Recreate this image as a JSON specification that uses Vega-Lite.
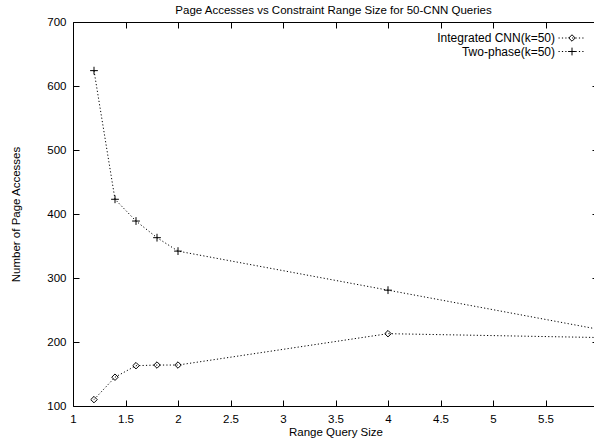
{
  "$schema": "https://vega.github.io/schema/vega-lite/v6.json",
  "autosize": {"type": "none"},
  "padding": {"left": 73, "top": 22, "right": 0, "bottom": 35},
  "width": 521,
  "height": 384,
  "title": {"text": "Page Accesses vs Constraint Range Size for 50-CNN Queries", "font": "Liberation Sans", "fontSize": 11.5, "fontWeight": "normal", "color": "black", "anchor": "middle", "offset": 0},
  "config": {
    "view": {"stroke": null},
    "font": "Liberation Sans",
    "axis": {"grid": false, "domainColor": "black", "tickColor": "black", "labelColor": "black", "titleColor": "black", "labelFont": "Liberation Sans", "titleFont": "Liberation Sans", "labelFontSize": 11.5, "titleFontSize": 11.5, "titleFontWeight": "normal", "labelFlush": false, "labelOverlap": false, "tickSize": -6, "domainWidth": 1, "tickWidth": 1}
  },
  "data": {"values": [
    {"series": "Integrated CNN(k=50)", "size": 1.2, "pages": 110},
    {"series": "Integrated CNN(k=50)", "size": 1.4, "pages": 145},
    {"series": "Integrated CNN(k=50)", "size": 1.6, "pages": 163},
    {"series": "Integrated CNN(k=50)", "size": 1.8, "pages": 164},
    {"series": "Integrated CNN(k=50)", "size": 2.0, "pages": 164},
    {"series": "Integrated CNN(k=50)", "size": 4.0, "pages": 213},
    {"series": "Integrated CNN(k=50)", "size": 6.0, "pages": 207},
    {"series": "Two-phase(k=50)", "size": 1.2, "pages": 624},
    {"series": "Two-phase(k=50)", "size": 1.4, "pages": 423},
    {"series": "Two-phase(k=50)", "size": 1.6, "pages": 389},
    {"series": "Two-phase(k=50)", "size": 1.8, "pages": 363},
    {"series": "Two-phase(k=50)", "size": 2.0, "pages": 342},
    {"series": "Two-phase(k=50)", "size": 4.0, "pages": 281},
    {"series": "Two-phase(k=50)", "size": 6.0, "pages": 220}
  ]},
  "resolve": {"axis": {"x": "independent", "y": "independent"}},
  "layer": [
    {
      "mark": {"type": "line", "strokeWidth": 1, "strokeDash": [1.2, 2.2], "clip": false},
      "encoding": {
        "x": {"field": "size", "type": "quantitative", "scale": {"domain": [1, 6], "range": [0, 525]},
              "axis": {"orient": "bottom", "values": [1, 1.5, 2, 2.5, 3, 3.5, 4, 4.5, 5, 5.5, 6], "format": "~g", "title": "Range Query Size", "labelPadding": 13, "titlePadding": 2}},
        "y": {"field": "pages", "type": "quantitative", "scale": {"domain": [100, 700], "zero": false, "nice": false},
              "axis": {"orient": "left", "values": [100, 200, 300, 400, 500, 600, 700], "format": "d", "title": "Number of Page Accesses", "labelPadding": 13, "titlePadding": 25}},
        "color": {"field": "series", "type": "nominal",
                  "scale": {"domain": ["Integrated CNN(k=50)", "Two-phase(k=50)"], "range": ["black", "black"]},
                  "legend": {"orient": "none", "legendX": 492, "legendY": 10, "title": null, "padding": 0, "symbolType": "M-2.5,0H2.5", "symbolSize": 100, "symbolStrokeWidth": 1, "symbolDash": [1.2, 2.2], "labelAlign": "right", "labelOffset": -22, "labelFont": "Liberation Sans", "labelFontSize": 12, "labelColor": "black", "rowPadding": 1.5}}
      }
    },
    {
      "mark": {"type": "point", "filled": false, "stroke": "black", "strokeWidth": 1, "size": 42, "opacity": 1, "clip": false},
      "encoding": {
        "x": {"field": "size", "type": "quantitative", "axis": {"orient": "top", "labels": false, "title": null, "values": [1, 1.5, 2, 2.5, 3, 3.5, 4, 4.5, 5, 5.5, 6]}},
        "y": {"field": "pages", "type": "quantitative", "axis": {"orient": "right", "labels": false, "title": null, "offset": 4, "values": [100, 200, 300, 400, 500, 600, 700]}},
        "shape": {"field": "series", "type": "nominal",
                  "scale": {"range": ["diamond", "M-1.2,0H1.2M0,-1.2V1.2"]},
                  "legend": {"orient": "none", "legendX": 493, "legendY": 10, "title": null, "padding": 0, "symbolSize": 42, "symbolStrokeColor": "black", "symbolFillColor": "transparent", "symbolStrokeWidth": 1, "labelExpr": "''", "labelFontSize": 12, "rowPadding": 1.5}}
      }
    }
  ]
}
